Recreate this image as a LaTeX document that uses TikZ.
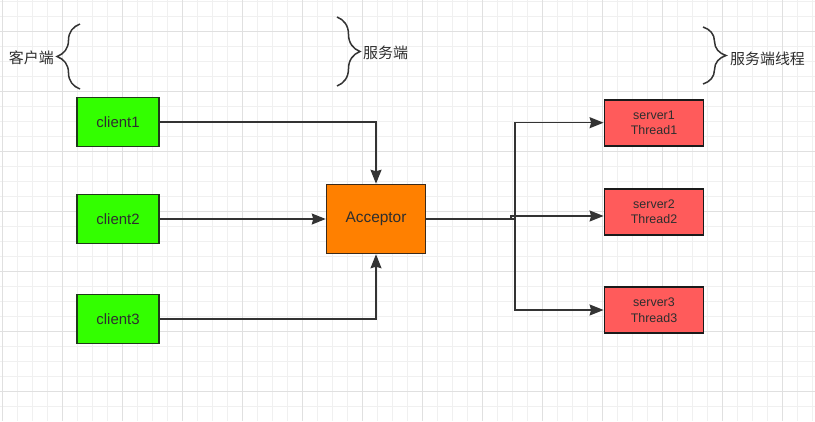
\documentclass[tikz,border=0pt]{standalone}
\usepackage{fontspec}
\setmainfont{Liberation Sans}
\newfontfamily\cjk{Noto Sans CJK SC}
\usetikzlibrary{arrows.meta,decorations.pathreplacing}
\definecolor{clientfill}{HTML}{33FF00}
\definecolor{clientedge}{HTML}{1F3A1A}
\definecolor{accfill}{HTML}{FF8000}
\definecolor{accedge}{HTML}{3B2A1A}
\definecolor{srvfill}{HTML}{FF5B5B}
\definecolor{srvedge}{HTML}{1A1A1A}
\definecolor{linegray}{HTML}{333333}
\definecolor{txtgray}{HTML}{2E2E2E}
\tikzset{
  client/.style={draw=clientedge,fill=clientfill,line width=1.5bp,minimum width=82bp,
    minimum height=49bp,inner sep=0pt,text=txtgray,font=\fontsize{15}{18}\selectfont},
  acc/.style   ={draw=accedge,fill=accfill,line width=1.5bp,minimum width=99bp,
    minimum height=69bp,inner sep=0pt,text=txtgray,font=\fontsize{15.5}{18}\selectfont},
  srv/.style   ={draw=srvedge,fill=srvfill,line width=1.8bp,minimum width=99bp,
    minimum height=46bp,inner sep=0pt,align=center,text=txtgray,
    font=\fontsize{12.5}{15.5}\selectfont},
  ar/.style    ={-{Stealth[length=14bp,width=11bp,inset=1.5bp]},line width=1.5bp,draw=linegray},
  brc/.style   ={decorate,decoration={brace,amplitude=23bp},line width=1.5bp,draw=linegray},
  lbl/.style   ={font=\cjk\fontsize{15}{18}\selectfont,text=txtgray,inner sep=0pt},
  minor/.style ={draw=black!6,line width=0.8bp},
  major/.style ={draw=black!12,line width=0.8bp},
}
\begin{document}
\begin{tikzpicture}[x=1bp,y=-1bp]
  \useasboundingbox (0,0) rectangle (815,421);
  \fill[white] (0,0) rectangle (815,421);
  % grid
  \begin{scope}
    \clip (0,0) rectangle (815,421);
    \foreach \x in {2.3,17.3,...,812.3} \draw[minor] (\x,0) -- (\x,421);
    \foreach \y in {1.7,16.7,...,420} \draw[minor] (0,\y) -- (815,\y);
    \foreach \x in {2.3,62.3,...,782.3} \draw[major] (\x,0) -- (\x,421);
    \foreach \y in {31.7,91.7,...,391.7} \draw[major] (0,\y) -- (815,\y);
  \end{scope}

  \node[client] (c1) at (118,122){client1};
  \node[client] (c2) at (118,219){client2};
  \node[client] (c3) at (118,319){client3};
  \node[acc] (acc) at (376,219){Acceptor};
  \node[srv] (s1) at (654,122.7){server1\\Thread1};
  \node[srv] (s2) at (654,211.7){server2\\Thread2};
  \node[srv] (s3) at (654,310){server3\\Thread3};

  \draw[ar] (c1.east) -| (acc.north);
  \draw[ar] (c2.east) -- (acc.west);
  \draw[ar] (c3.east) -| (acc.south);

  \coordinate (split) at (515,219);
  \coordinate (jog) at (511,219);
  \draw[ar] (acc.east) -- (split) |- (s1.west);
  \draw[ar] (acc.east) -- (split) |- (s3.west);
  \draw[ar] (acc.east) -- (jog) |- ([yshift=-4.3bp]s2.west);

  % braces and labels
  \draw[brc] (80,89) -- (80,24);
  \node[lbl,anchor=east] (lc) at (54,58){客户端};
  \draw[brc] (337,17) -- (337,86);
  \node[lbl,anchor=west] (ls) at (363,53){服务端};
  \draw[brc] (703,27) -- (703,84);
  \node[lbl,anchor=west] (lt) at (730,59){服务端线程};
\end{tikzpicture}
\end{document}
